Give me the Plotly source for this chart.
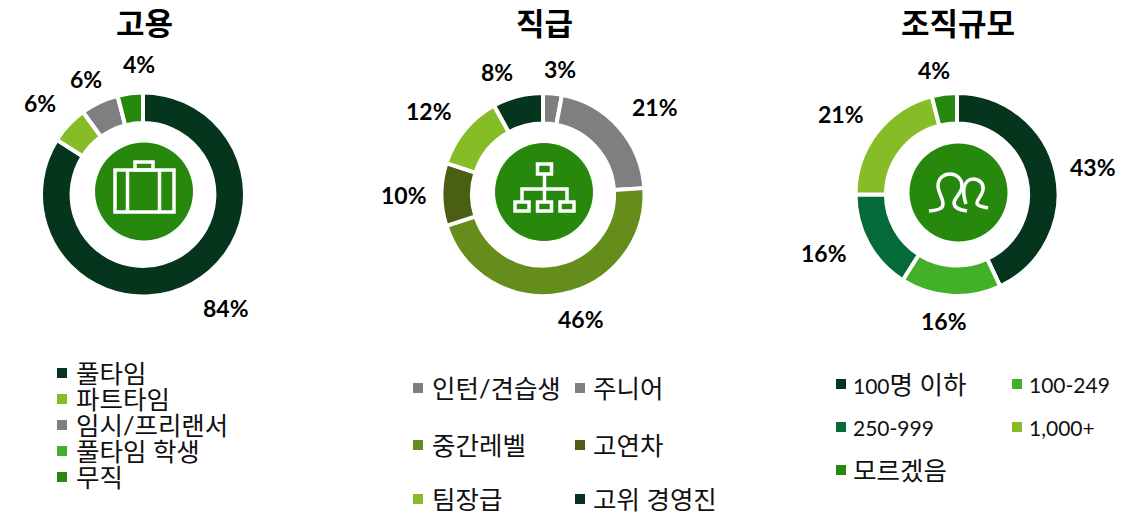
import plotly.graph_objects as go

W, H = 1140, 512
FONT = "Lato, 'Noto Sans CJK KR', sans-serif"
KR = "'Noto Sans CJK KR', sans-serif"

DARK = "#05361D"; LIME = "#86BC25"; GRAY = "#7F7F7F"; GREEN = "#26890D"
BRIGHT = "#43B02A"; OLIVE = "#658D1B"; MOSS = "#4A5F12"; TEAL = "#046A38"

titles = ["고용", "직급", "조직규모"]

emp_labels = ["풀타임", "파트타임", "임시/프리랜서", "풀타임 학생", "무직"]
emp_values = [84, 6, 6, 0, 4]
emp_colors = [DARK, LIME, GRAY, BRIGHT, GREEN]

lvl_labels = ["인턴/견습생", "주니어", "중간레벨", "고연차", "팀장급", "고위 경영진"]
lvl_values = [3, 21, 46, 10, 12, 8]
lvl_colors = [GRAY, GRAY, OLIVE, MOSS, LIME, DARK]

org_labels = ["100명 이하", "100-249", "250-999", "1,000+", "모르겠음"]
org_values = [43, 16, 16, 21, 4]
org_colors = [DARK, BRIGHT, TEAL, LIME, GREEN]

# layout only (pixels)
ring_boxes = [(143, 194.5, 102), (543, 194.5, 101.5), (957, 194.5, 101.5)]
badges = [(144, 191.5), (544, 192), (958.5, 192.5)]
title_xy = [(144, 21), (544, 21), (958, 21)]
emp_text_xy = [(226, 308), (40, 103), (86, 79), None, (139, 64)]
lvl_text_xy = [(560, 69), (655, 107), (581, 319), (404, 195), (429, 111), (497, 72)]
org_text_xy = [(1093, 167), (944, 321), (824, 253), (841, 114), (934, 70)]
emp_leg_xy = [(57, 373), (57, 399), (57, 425), (57, 451), (57, 477)]
lvl_leg_xy = [(413, 388), (575, 388), (413, 445), (575, 445), (413, 499), (575, 499)]
org_leg_xy = [(836, 384), (1012, 384), (836, 427), (1012, 427), (836, 470)]

fx = lambda x: x / W
fy = lambda y: 1 - y / H


def path(cmds):
    out = []
    for c in cmds:
        if isinstance(c, str):
            out.append(c)
        else:
            out.append(f"{fx(c[0]):.5f},{fy(c[1]):.5f}")
    return " ".join(out)


fig = go.Figure()
shapes, annotations = [], []

sets = [
    (emp_labels, emp_values, emp_colors, emp_text_xy, emp_leg_xy),
    (lvl_labels, lvl_values, lvl_colors, lvl_text_xy, lvl_leg_xy),
    (org_labels, org_values, org_colors, org_text_xy, org_leg_xy),
]

for i, (labels, values, colors, text_xy, leg_xy) in enumerate(sets):
    cx, cy, r = ring_boxes[i]
    fig.add_trace(go.Pie(
        labels=labels, values=values, sort=False, direction="clockwise", rotation=0,
        hole=0.70, textinfo="none", hoverinfo="label+percent", showlegend=False,
        marker=dict(colors=colors, line=dict(color="white", width=4)),
        domain=dict(x=[fx(cx - r), fx(cx + r)], y=[fy(cy + r), fy(cy - r)]),
    ))
    annotations.append(dict(x=fx(title_xy[i][0]), y=fy(title_xy[i][1]), xref="paper", yref="paper",
                            text=titles[i], showarrow=False, xanchor="center", yanchor="middle",
                            font=dict(family=KR, size=31, color="#000000", weight="bold")))
    for v, xy in zip(values, text_xy):
        if xy is None:
            continue
        annotations.append(dict(x=fx(xy[0]), y=fy(xy[1]), xref="paper", yref="paper",
                                text=f"{v}%", showarrow=False, xanchor="center", yanchor="middle",
                                font=dict(family=FONT, size=23, color="#000000", weight="bold")))
    for lab, col, (lx, ly) in zip(labels, colors, leg_xy):
        shapes.append(dict(type="rect", xref="paper", yref="paper", layer="above",
                           x0=fx(lx), x1=fx(lx + 10), y0=fy(ly + 5), y1=fy(ly - 5),
                           fillcolor=col, line=dict(width=0)))
        tx = lx + (15 if i == 2 else 17)
        if i == 1 and lx > 500:
            tx -= 1
        if i == 2 and lab.startswith("100명"):
            txt = "<span style='font-size:21px'>100</span>명 이하"
        else:
            txt = lab
        size = 21 if i == 2 and lab[0].isdigit() and not lab.startswith("100명") else 25.5
        annotations.append(dict(x=fx(tx), y=fy(ly), xref="paper", yref="paper",
                                text=txt, showarrow=False, xanchor="left", yanchor="middle",
                                font=dict(family=FONT, size=size, color="#111111")))
    bx, by = badges[i]
    shapes.append(dict(type="circle", xref="paper", yref="paper", layer="above",
                       x0=fx(bx - 49), x1=fx(bx + 49), y0=fy(by + 49), y1=fy(by - 49),
                       fillcolor=GREEN, line=dict(width=0)))

white = dict(color="white", width=3.5)


def icon(cmds):
    shapes.append(dict(type="path", xref="paper", yref="paper", layer="above",
                       path=path(cmds), line=white, fillcolor="rgba(0,0,0,0)"))


def box(x0, y0, x1, y1):
    icon(["M", (x0, y0), "L", (x1, y0), "L", (x1, y1), "L", (x0, y1), "Z"])


# briefcase
box(115, 170, 174, 212)
box(135, 162, 153, 170)
icon(["M", (127.5, 170), "L", (127.5, 212)])
icon(["M", (159.5, 170), "L", (159.5, 212)])

# org chart
box(537.5, 164, 551.5, 174)
box(515, 202, 529, 211)
box(537.5, 202, 551.5, 211)
box(560, 202, 574, 211)
icon(["M", (544.5, 174), "L", (544.5, 202)])
icon(["M", (522, 202), "L", (522, 189), "L", (567, 189), "L", (567, 202)])

# people
icon(["M", (929, 211), "C", (938, 210), (943, 209), (943, 204),
      "C", (943, 198), (938, 192), (938, 186), "C", (938, 178), (944, 174), (950, 174),
      "C", (957, 174), (962, 179), (962, 186), "C", (962, 193), (954, 198), (954, 203),
      "C", (954, 209), (962, 210), (967, 211)])
icon(["M", (966, 204), "C", (964, 198), (963, 193), (964, 188),
      "C", (965, 182), (969, 179), (973, 179), "C", (980, 179), (984, 184), (983, 190),
      "C", (982, 196), (977, 199), (977, 203), "C", (977, 206), (983, 207), (988, 208)])

fig.update_layout(width=W, height=H, autosize=False, margin=dict(l=0, r=0, t=0, b=0, pad=0),
                  paper_bgcolor="white", plot_bgcolor="white",
                  shapes=shapes, annotations=annotations, showlegend=False)
fig.write_html("out.html", config=dict(displayModeBar=False),
               post_script="document.body.style.margin='0';document.documentElement.style.overflow='hidden';")
